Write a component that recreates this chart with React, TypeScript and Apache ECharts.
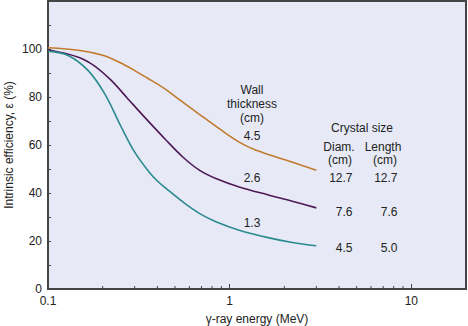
import React, { useEffect, useRef } from "react";
import * as echarts from "echarts";

const energy45 = [0.1, 0.15, 0.2, 0.25, 0.3, 0.35, 0.428, 0.5, 0.681, 0.876, 1.128, 1.4, 2.2, 3.0];
const eff45 = [100.5, 99.4, 97.4, 94.3, 91.0, 88.0, 84.0, 80.3, 72.8, 66.8, 61.2, 57.8, 52.9, 49.5];

const energy26 = [0.1, 0.147, 0.18, 0.223, 0.275, 0.34, 0.447, 0.552, 0.681, 0.84, 1.128, 1.65, 2.21, 3.0];
const eff26 = [99.7, 96.6, 93.0, 86.9, 79.3, 71.6, 62.0, 55.0, 49.5, 46.0, 42.5, 39.1, 36.6, 33.8];

const energy13 = [0.1, 0.129, 0.166, 0.205, 0.253, 0.3, 0.362, 0.4, 0.447, 0.552, 0.681, 0.84, 1.128, 1.65, 2.21, 3.0];
const eff13 = [99.1, 97.3, 91.1, 81.4, 67.5, 57.0, 48.5, 45.0, 41.9, 36.3, 31.5, 28.0, 24.5, 21.3, 19.4, 18.0];

const minorXTicks = [0.2, 0.3, 0.4, 0.5, 0.6, 0.7, 0.8, 0.9, 2, 3, 4, 5, 6, 7, 8, 9];
const xLabels = [0.1, 1, 10];

const FONT = '"Liberation Sans", Arial, Helvetica, sans-serif';
const TXT = "#222";

const zip = (xs: number[], ys: number[]) => xs.map((x, i) => [x, ys[i]]);

function txt(text: string, x: number, y: number, align = "center", lineHeight = 14) {
  return {
    type: "text",
    x,
    y,
    silent: true,
    z: 100,
    style: {
      text,
      fill: TXT,
      font: `12px ${FONT}`,
      fontSize: 12,
      fontFamily: FONT,
      lineHeight,
      textAlign: align,
      align,
      textVerticalAlign: "middle",
      verticalAlign: "middle",
    },
  };
}

export default function App() {
  const ref = useRef<HTMLDivElement>(null);
  useEffect(() => {
    if (!ref.current) return;
    const chart = echarts.init(ref.current, null, { renderer: "svg" });
    const lineSeries = (data: number[][], color: string) => ({
      type: "line",
      data,
      smooth: 0.35,
      showSymbol: false,
      symbol: "none",
      lineStyle: { color, width: 1.6 },
      z: 5,
    });
    chart.setOption({
      animation: false,
      backgroundColor: "#ffffff",
      textStyle: { fontFamily: FONT },
      grid: {
        left: 48,
        top: 1,
        right: 2,
        bottom: 37,
        containLabel: false,
        outerBoundsMode: "none",
        show: true,
        backgroundColor: "#e7eaf6",
        borderColor: "#444",
        borderWidth: 2,
      },
      xAxis: {
        type: "log",
        logBase: 10,
        min: 0.1,
        max: 20,
        name: "γ-ray energy (MeV)",
        nameLocation: "middle",
        nameGap: 24,
        nameMoveOverlap: false,
        nameTextStyle: { color: TXT, fontSize: 12, fontFamily: FONT },
        axisLine: { show: true, lineStyle: { color: "#444", width: 2 } },
        axisTick: { show: true, inside: true, length: 5, lineStyle: { color: "#444", width: 1 } },
        axisLabel: {
          color: TXT,
          fontSize: 12,
          fontFamily: FONT,
          margin: 6,
          showMaxLabel: false,
          formatter: (v: number) => {
            const hit = xLabels.find((l) => Math.abs(l - v) / l < 1e-6);
            return hit !== undefined ? String(hit) : "";
          },
        },
        splitLine: { show: false },
      },
      yAxis: {
        type: "value",
        min: 0,
        max: 120,
        interval: 10,
        name: "Intrinsic efficiency, ε (%)",
        nameLocation: "middle",
        nameGap: 33,
        nameMoveOverlap: false,
        nameTextStyle: { color: TXT, fontSize: 12, fontFamily: FONT },
        axisLine: { show: true, lineStyle: { color: "#444", width: 2 } },
        axisTick: { show: true, inside: true, length: 3, lineStyle: { color: "#444", width: 1 } },
        axisLabel: {
          color: TXT,
          fontSize: 12,
          fontFamily: FONT,
          margin: 6,
          formatter: (v: number) => (v % 20 === 0 && v <= 100 ? String(v) : ""),
        },
        splitLine: { show: false },
      },
      series: [
        lineSeries(zip(energy45, eff45), "#c27a2e"),
        lineSeries(zip(energy26, eff26), "#4e1a55"),
        lineSeries(zip(energy13, eff13), "#2b8a8e"),
        {
          type: "custom",
          data: minorXTicks.map((v) => [v, 0]),
          z: 10,
          silent: true,
          renderItem: (_params: any, api: any) => {
            const p = api.coord([api.value(0), 0]);
            return {
              type: "line",
              shape: { x1: p[0], y1: p[1], x2: p[0], y2: p[1] - 3 },
              style: { stroke: "#444", lineWidth: 1 },
            };
          },
        },
      ],
      graphic: [
        txt("Wall\nthickness\n(cm)", 252, 104),
        txt("4.5", 252, 136),
        txt("2.6", 252, 178),
        txt("1.3", 252, 223),
        txt("Crystal size", 362, 128),
        txt("Diam.", 339, 147),
        txt("Length", 383, 147),
        txt("(cm)", 340, 160),
        txt("(cm)", 385, 160),
        txt("12.7", 352.5, 177.5, "right"),
        txt("12.7", 397.5, 177.5, "right"),
        txt("7.6", 352.5, 211.5, "right"),
        txt("7.6", 397.5, 211.5, "right"),
        txt("4.5", 352.5, 247.5, "right"),
        txt("5.0", 397.5, 247.5, "right"),
      ],
    });
    return () => chart.dispose();
  }, []);
  return <div ref={ref} style={{ width: 468, height: 326, position: "absolute", left: 0, top: 0 }} />;
}
